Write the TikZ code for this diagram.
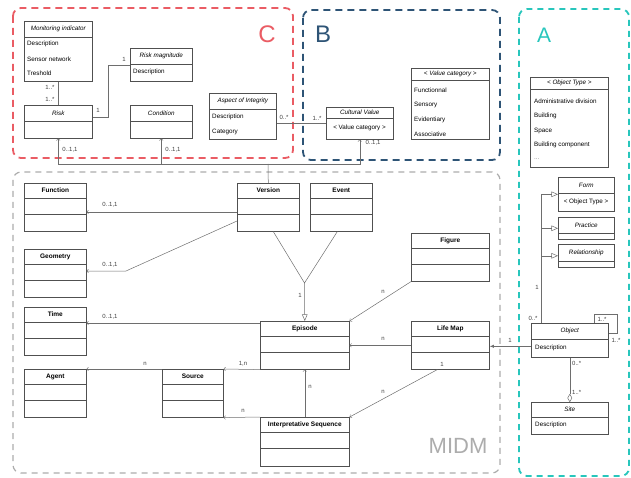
\documentclass[tikz,border=0pt]{standalone}
\usepackage{fontspec}
\setmainfont{Liberation Sans}
\usetikzlibrary{arrows, positioning}

\definecolor{cred}{RGB}{234,92,100}
\definecolor{cblue}{RGB}{46,84,118}
\definecolor{cteal}{RGB}{40,198,188}
\definecolor{cgrey}{RGB}{172,172,172}
\definecolor{boxline}{RGB}{80,80,80}
\definecolor{linkline}{RGB}{110,110,110}

\tikzset{
	cls/.style={rectangle, draw=boxline, line width=0.6pt, anchor=north west, inner sep=0pt},
	sep/.style={draw=boxline, line width=0.5pt},
	ttl/.style={font=\fontsize{6.5}{7}\selectfont\bfseries, inner sep=0pt},
	ittl/.style={font=\fontsize{6.3}{7}\selectfont\itshape, inner sep=0pt},
	attr/.style={font=\fontsize{6.3}{7}\selectfont, anchor=west, inner sep=0pt},
	lbl/.style={font=\fontsize{6}{7}\selectfont, inner sep=0pt, text=black!75},
	link/.style={draw=linkline, line width=0.5pt},
	area/.style={rounded corners=8pt, line width=1.8pt, dash pattern=on 7pt off 5pt},
}

% style, name, x, y, width, height, header, title
\newcommand{\umlclass}[8]{%
	\node (#2) [cls, minimum width=#5, minimum height=#6] at (#3,#4) {};
	\node (#2-t) [#1] at ([yshift=-#7/2]#2.north) {#8};
	\draw [sep] ([yshift=-#7]#2.north west) -- ([yshift=-#7]#2.north east);
}

\begin{document}
\begin{tikzpicture}[x=1pt, y=-1pt]
		\useasboundingbox (0,0) rectangle (631,478);
		
		% areas
		\draw [area, cred] (13,8) rectangle (293,158);
		\draw [area, cblue] (303,10) rectangle (500,160);
		\draw [area, cteal, dash pattern=on 6pt off 5pt] (519,9) rectangle (629,476);
		\draw [area, cgrey, line width=1.2pt, dash pattern=on 6pt off 5pt] (13,172) rectangle (500,473);
		\node (lc) [font=\fontsize{24}{24}\selectfont, text=cred] at (267,34) {C};
		\node (lb) [font=\fontsize{24}{24}\selectfont, text=cblue] at (323,34) {B};
		\node (la) [font=\fontsize{21}{21}\selectfont, text=cteal] at (544,35) {A};
		\node (lmidm) [font=\fontsize{22}{22}\selectfont, text=cgrey] at (458,446) {MIDM};
		
		% C
		\umlclass{ittl}{monitor}{24}{21}{68}{60}{16}{Monitoring indicator}
		\node (mon1) [attr] at (27,44) {Description};
		\node (mon2) [attr] at (27,59) {Sensor network};
		\node (mon3) [attr] at (27,73) {Treshold};
		\umlclass{ittl}{riskmag}{130}{48}{62}{33}{16}{Risk magnitude}
		\node (rm1) [attr] at (133,72) {Description};
		\umlclass{ittl}{risk}{24}{105}{68}{33}{16}{Risk}
		\umlclass{ittl}{condition}{130}{105}{62}{33}{16}{Condition}
		\umlclass{ittl}{aspect}{209}{93}{67}{46}{16}{Aspect of Integrity}
		\node (asp1) [attr] at (212,117) {Description};
		\node (asp2) [attr] at (212,132) {Category};
		
		\draw [link] (monitor.south) -- (risk.north);
		\node (l-mr1) [lbl] at (50,87) {1..*};
		\node (l-mr2) [lbl] at (50,99) {1..*};
		\draw [link] ([yshift=5pt]risk.east) -- ++(16,0) |- (riskmag.west);
		\node (l-rr1) [lbl] at (98,110) {1};
		\node (l-rr2) [lbl] at (124,59) {1};
		
		% B
		\umlclass{ittl}{cultural}{326}{107}{67}{32}{11}{Cultural Value}
		\node (cv1) [font=\fontsize{6.3}{7}\selectfont, inner sep=0pt] at (359.5,128) {< Value category >};
		\umlclass{ittl}{valuecat}{411}{68}{78}{71}{12}{< Value category >}
		\node (vc1) [attr] at (414,90) {Functionnal};
		\node (vc2) [attr] at (414,105) {Sensory};
		\node (vc3) [attr] at (414,120) {Evidentiary};
		\node (vc4) [attr] at (414,134) {Associative};
		
		\draw [link] (aspect.east |- cultural.west) -- (cultural.west);
		\node (l-ac1) [lbl] at (284,117) {0..*};
		\node (l-ac2) [lbl] at (317,118) {1..*};
		
		% A
		\umlclass{ittl}{objtype}{530}{77}{78}{90}{12}{< Object Type >}
		\node (ot1) [attr] at (534,101) {Administrative division};
		\node (ot2) [attr] at (534,116) {Building};
		\node (ot3) [attr] at (534,131) {Space};
		\node (ot4) [attr] at (534,145) {Building component};
		\node (ot5) [attr, text=black!50] at (534,159) {...};
		\umlclass{ittl}{form}{558}{177}{56}{34}{16}{Form}
		\node (fm1) [font=\fontsize{6.3}{7}\selectfont, inner sep=0pt] at (586,202) {< Object Type >};
		\umlclass{ittl}{practice}{558}{217}{56}{22}{16}{Practice}
		\umlclass{ittl}{relation}{558}{244}{56}{23}{17}{Relationship}
		\umlclass{ittl}{object}{531}{323}{77}{34}{16}{Object}
		\node (ob1) [attr] at (535,348) {Description};
		\umlclass{ittl}{site}{531}{402}{77}{32}{15}{Site}
		\node (st1) [attr] at (535,425) {Description};
		
		\coordinate (trunk) at ([xshift=10pt]object.north west);
		\draw [link, -open triangle 45] (trunk) |- (form.west);
		\draw [link, -open triangle 45] (trunk |- practice.west) -- (practice.west);
		\draw [link, -open triangle 45] (trunk |- relation.west) -- (relation.west);
		\node (l-ob1) [lbl] at (537,287) {1};
		\node (l-ob2) [lbl] at (533,318) {0..*};
		\draw [link] ([xshift=-14pt]object.north east) -- ++(0,-9) -- ++(23,0) |- ([yshift=-10pt]object.north east);
		\node (l-ob3) [lbl] at (602,319) {1..*};
		\node (l-ob4) [lbl] at (616,340) {1..*};
		\draw [link, -open diamond] (object.south) -- (site.north);
		\node (l-os1) [lbl, anchor=west] at (572,363) {0..*};
		\node (l-os2) [lbl, anchor=west] at (572,392) {1..*};
		
		% MIDM
		\umlclass{ttl}{function}{24}{183}{62}{48}{15}{Function}
		\umlclass{ttl}{geometry}{24}{249}{62}{48}{15}{Geometry}
		\umlclass{ttl}{time}{24}{307}{62}{48}{15}{Time}
		\umlclass{ttl}{agent}{24}{369}{62}{48}{15}{Agent}
		\umlclass{ttl}{source}{162}{369}{61}{48}{15}{Source}
		\umlclass{ttl}{version}{237}{183}{62}{48}{15}{Version}
		\umlclass{ttl}{event}{310}{183}{62}{48}{15}{Event}
		\umlclass{ttl}{figure}{411}{233}{78}{48}{15}{Figure}
		\umlclass{ttl}{episode}{260}{321}{89}{48}{15}{Episode}
		\umlclass{ttl}{lifemap}{411}{321}{78}{48}{15}{Life Map}
		\umlclass{ttl}{interp}{260}{417}{89}{49}{15}{Interpretative Sequence}
		\foreach \n in {function,geometry,time,agent,source,version,event,figure,episode,lifemap,interp}
			\draw [sep] ([yshift=-31pt]\n.north west) -- ([yshift=-31pt]\n.north east);
		
		% links up to C and B
		\coordinate (bus) at (268,164);
		\draw [link] (version.north) -- (bus);
		\draw [link, ->] (bus) -| (risk.south);
		\draw [link, ->] (bus) -| (condition.south);
		\draw [link, ->] (bus) -| (cultural.south);
		\node (l-b1) [lbl] at (70,150) {0..1,1};
		\node (l-b2) [lbl] at (173,150) {0..1,1};
		\node (l-b3) [lbl] at (373,143) {0..1,1};
		
		\draw [link, ->] ([yshift=-29pt]version.north west) -- ([yshift=-29pt]function.north east);
		\node (l-vf) [lbl] at (110,205) {0..1,1};
		\draw [link, ->] ([yshift=-38pt]version.north west) -- ++(-111,50) -- ([yshift=-22pt]geometry.north east);
		\node (l-vg) [lbl] at (110,265) {0..1,1};
		\draw [link, ->] ([yshift=-2pt]episode.north west) -- ([yshift=-16pt]time.north east);
		\node (l-et) [lbl] at (110,317) {0..1,1};
		\draw [link, ->] (episode.south west) -- (source.north east);
		\node (l-es) [lbl] at (243,364) {1,n};
		\draw [link, ->] (source.north west) -- (agent.north east);
		\node (l-sa) [lbl] at (145,364) {n};
		\draw [link, ->] (interp.north west) -- (source.south east);
		\node (l-is) [lbl] at (243,411) {n};
		\draw [link, ->] (interp.north) -- (episode.south);
		\node (l-ie) [lbl] at (310,387) {n};
		\coordinate (vejoin) at (304.5,283);
		\draw [link] ([xshift=5pt]version.south) -- (vejoin) -- ([xshift=-4pt]event.south);
		\draw [link, -open triangle 45] (vejoin) -- (episode.north);
		\node (l-ve) [lbl] at (300,295) {1};
		\draw [link, ->] (figure.south west) -- (episode.north east);
		\node (l-fe) [lbl] at (383,292) {n};
		\draw [link, ->] (lifemap.west) -- (episode.east);
		\node (l-le) [lbl] at (383,339) {n};
		\draw [link, ->] ([xshift=-13pt]lifemap.south) -- (interp.north east);
		\node (l-li1) [lbl] at (442,364) {1};
		\node (l-li2) [lbl] at (383,392) {n};
		\draw [link, -latex] ([yshift=-6pt]object.west) -- ([yshift=-6pt]object.west -| lifemap.east);
		\node (l-ol) [lbl] at (510,340) {1};
\end{tikzpicture}
\end{document}
